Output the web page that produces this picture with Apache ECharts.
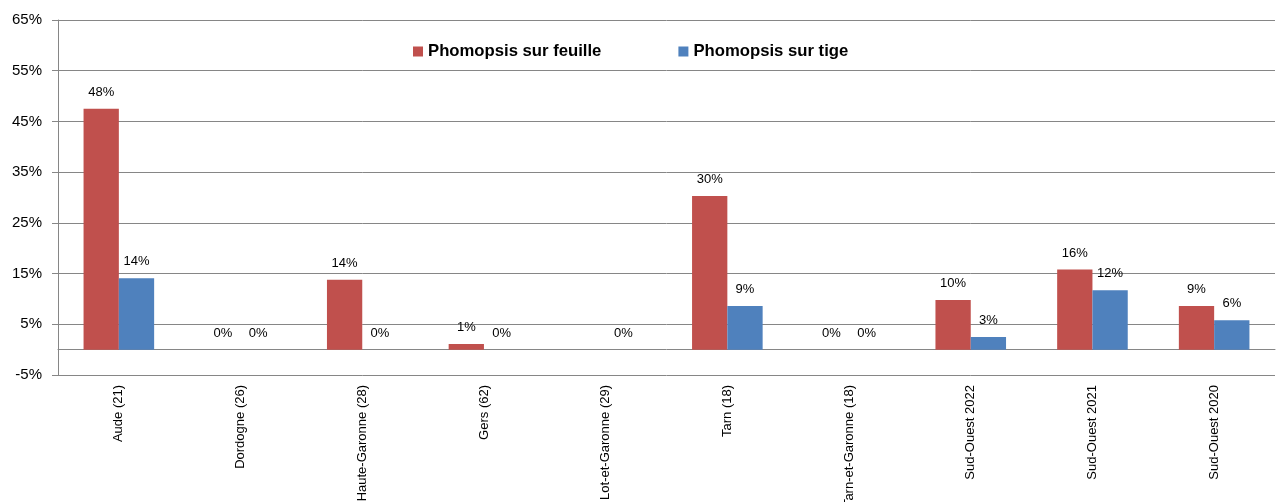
<html>
<head>
    <meta charset="UTF-8">
    <title>Phomopsis</title>
    <script src="https://cdn.jsdelivr.net/npm/echarts@6/dist/echarts.min.js"></script>
    <style>
        body { margin: 0; padding: 0; background: #fff; }
        #echart { width: 1278px; height: 502px; }
    </style>
</head>
<body>
<div id="echart"></div>
<script>
    // valeurs en %
    const categories = ['Aude (21)', 'Dordogne (26)', 'Haute-Garonne (28)', 'Gers (62)', 'Lot-et-Garonne (29)',
        'Tarn (18)', 'Tarn-et-Garonne (18)', 'Sud-Ouest 2022', 'Sud-Ouest 2021', 'Sud-Ouest 2020'];
    const feuille = [47.5, 0, 13.8, 1.1, null, 30.3, 0, 9.8, 15.8, 8.6];
    const tige = [14.1, 0, 0, 0, 0, 8.6, 0, 2.5, 11.7, 5.8];
    const yTicks = [-5, 5, 15, 25, 35, 45, 55, 65];

    const font = 'Liberation Sans';
    const grey = '#868686';

    function lbl(p) {
        return Math.round(p.value) + '%';
    }

    window.onload = function () {
        const ec = echarts.init(document.getElementById('echart'));
        ec.setOption({
            animation: false,
            textStyle: { fontFamily: font },
            grid: { left: 58, right: 3, top: 20, bottom: 127, outerBoundsMode: 'none', containLabel: false },
            legend: {
                top: 38,
                left: 408,
                itemGap: 77,
                icon: 'rect',
                itemWidth: 10,
                itemHeight: 10,
                textStyle: { fontSize: 16.7, fontWeight: 'bold', color: '#000', fontFamily: font }
            },
            xAxis: {
                type: 'category',
                data: categories,
                axisLine: { onZero: true, lineStyle: { color: grey } },
                axisTick: { length: 6, lineStyle: { color: grey } },
                axisLabel: { rotate: 90, margin: 10, fontSize: 13, color: '#000', interval: 0 }
            },
            yAxis: {
                type: 'value',
                min: yTicks[0],
                max: yTicks[yTicks.length - 1],
                interval: 10,
                axisLine: { show: true, lineStyle: { color: grey } },
                axisTick: { show: true, length: 6, lineStyle: { color: grey } },
                splitLine: { lineStyle: { color: grey } },
                axisLabel: { fontSize: 15, color: '#000', margin: 16, formatter: v => v + '%' }
            },
            series: [
                {
                    name: 'Phomopsis sur feuille',
                    type: 'bar',
                    data: feuille,
                    barGap: '0%',
                    barCategoryGap: '42%',
                    itemStyle: { color: '#C0504D' },
                    label: { show: true, position: 'top', distance: 10, fontSize: 13, color: '#000', formatter: lbl }
                },
                {
                    name: 'Phomopsis sur tige',
                    type: 'bar',
                    data: tige,
                    itemStyle: { color: '#4F81BD' },
                    label: { show: true, position: 'top', distance: 10, fontSize: 13, color: '#000', formatter: lbl }
                }
            ]
        });
    };
</script>
</body>
</html>
